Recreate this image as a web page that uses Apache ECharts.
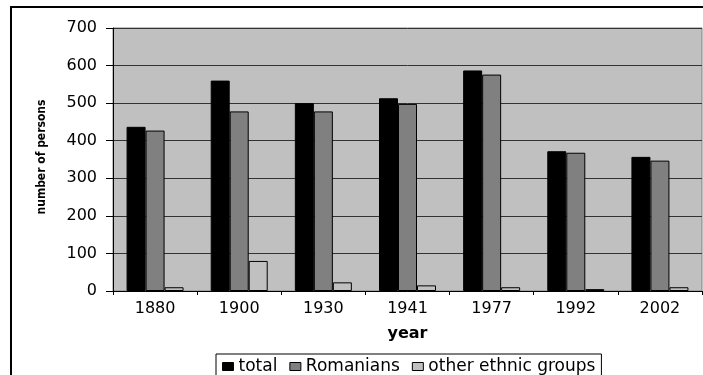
<!DOCTYPE html>
<html>
<head>
<meta charset="utf-8">
<script src="https://cdn.jsdelivr.net/npm/echarts@6/dist/echarts.min.js"></script>
<style>
  html, body { margin: 0; padding: 0; background: #fff; }
  #chart { width: 703px; height: 375px; }
</style>
</head>
<body>
<div id="chart"></div>
<script>
// Census years and population counts by group
const years = ['1880', '1900', '1930', '1941', '1977', '1992', '2002'];
const total = [437, 560, 500, 513, 587, 372, 357];
const romanians = [427, 478, 478, 498, 576, 368, 347];
const otherGroups = [10, 80, 23, 15, 10, 5, 10];
const seriesNames = ['total', 'Romanians', 'other ethnic groups'];

const chart = echarts.init(document.getElementById('chart'), null, { renderer: 'canvas' });

const labelFont = 'DejaVu Sans';

function barSeries(name, data, color) {
  return {
    name: name,
    type: 'bar',
    data: data,
    barWidth: 19,
    barGap: '0%',
    itemStyle: { color: color, borderColor: '#000', borderWidth: 1 },
    emphasis: { disabled: true },
    animation: false
  };
}

chart.setOption({
  animation: false,
  backgroundColor: '#fff',
  grid: {
    left: 113, top: 28, right: 1, bottom: 84,
    show: true,
    backgroundColor: '#c0c0c0',
    borderColor: '#808080',
    borderWidth: 1
  },
  legend: {
    left: 216,
    top: 354,
    padding: [4, 6, 8, 6],
    itemWidth: 11,
    itemHeight: 8,
    itemGap: 12,
    icon: 'rect',
    borderColor: '#000',
    borderWidth: 1,
    backgroundColor: '#fff',
    itemStyle: { borderColor: '#000', borderWidth: 1 },
    textStyle: { fontFamily: labelFont, fontSize: 17, color: '#000' },
    data: seriesNames
  },
  xAxis: {
    type: 'category',
    data: years,
    name: 'year',
    nameLocation: 'middle',
    nameGap: 35,
    nameTextStyle: { fontFamily: labelFont, fontSize: 16, fontWeight: 'bold', color: '#000' },
    axisLine: { lineStyle: { color: '#000', width: 1 } },
    axisTick: { show: true, alignWithLabel: false, length: 4, lineStyle: { color: '#000' } },
    axisLabel: { fontFamily: labelFont, fontSize: 16, color: '#000', margin: 10 },
    splitLine: { show: false }
  },
  yAxis: {
    type: 'value',
    min: 0,
    max: 700,
    interval: 100,
    axisLine: { show: true, lineStyle: { color: '#000', width: 1 } },
    axisTick: { show: true, length: 7, lineStyle: { color: '#000' } },
    axisLabel: { fontFamily: labelFont, fontSize: 16, color: '#000', margin: 16 },
    splitLine: { show: true, lineStyle: { color: '#333', width: 1 } }
  },
  graphic: [
    {
      type: 'rect',
      silent: true,
      shape: { x: 11, y: 7, width: 760, height: 420 },
      style: { fill: 'none', stroke: '#000', lineWidth: 2 }
    },
    {
      type: 'text',
      silent: true,
      x: 42,
      y: 157,
      rotation: Math.PI / 2,
      style: {
        text: 'number of persons',
        fontFamily: 'DejaVu Sans Condensed',
        fontSize: 12,
        fontWeight: 'bold',
        fill: '#000',
        align: 'center',
        verticalAlign: 'middle'
      }
    }
  ],
  series: [
    barSeries(seriesNames[0], total, '#000000'),
    barSeries(seriesNames[1], romanians, '#808080'),
    barSeries(seriesNames[2], otherGroups, '#c0c0c0')
  ]
});
</script>
</body>
</html>
